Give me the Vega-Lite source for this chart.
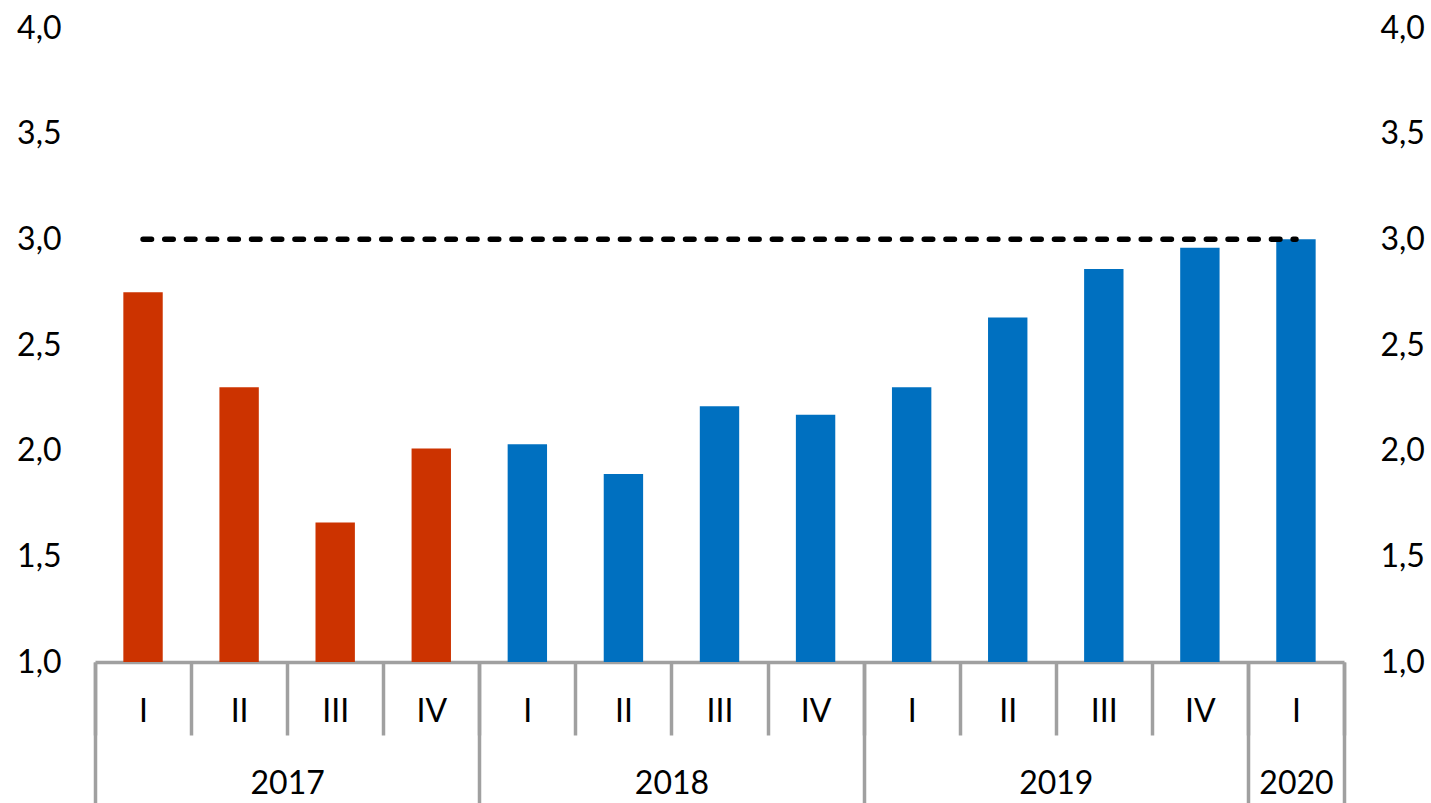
{
  "$schema": "https://vega.github.io/schema/vega-lite/v6.json",
  "autosize": "none",
  "width": 1249,
  "height": 634,
  "padding": {"left": 95, "top": 28, "right": 87, "bottom": 141},
  "background": "white",
  "config": {
    "view": {"stroke": null},
    "font": "Lato",
    "axis": {"grid": false, "labelFont": "Lato", "labelFontSize": 32, "labelColor": "#000000", "title": null}
  },
  "datasets": {
    "bars": [
      {"quarter": "2017 I", "value": 2.75, "phase": "2017"},
      {"quarter": "2017 II", "value": 2.30, "phase": "2017"},
      {"quarter": "2017 III", "value": 1.66, "phase": "2017"},
      {"quarter": "2017 IV", "value": 2.01, "phase": "2017"},
      {"quarter": "2018 I", "value": 2.03, "phase": "later"},
      {"quarter": "2018 II", "value": 1.89, "phase": "later"},
      {"quarter": "2018 III", "value": 2.21, "phase": "later"},
      {"quarter": "2018 IV", "value": 2.17, "phase": "later"},
      {"quarter": "2019 I", "value": 2.30, "phase": "later"},
      {"quarter": "2019 II", "value": 2.63, "phase": "later"},
      {"quarter": "2019 III", "value": 2.86, "phase": "later"},
      {"quarter": "2019 IV", "value": 2.96, "phase": "later"},
      {"quarter": "2020 I", "value": 3.00, "phase": "later"}
    ],
    "target": [
      {"quarter": "2017 I", "value": 3.0},
      {"quarter": "2020 I", "value": 3.0}
    ]
  },
  "layer": [
    {
      "data": {"name": "bars"},
      "mark": {"type": "bar", "width": {"band": 0.41}, "clip": true},
      "encoding": {
        "x": {
          "field": "quarter", "type": "nominal", "sort": null,
          "scale": {
            "domain": ["2017 I","2017 II","2017 III","2017 IV","2018 I","2018 II","2018 III","2018 IV","2019 I","2019 II","2019 III","2019 IV","2020 I"],
            "paddingInner": 0, "paddingOuter": 0
          },
          "axis": {
            "orient": "bottom",
            "domain": true, "domainColor": "#A0A0A0", "domainWidth": 3.5,
            "ticks": true, "tickBand": "extent", "tickSize": 73, "tickColor": "#A0A0A0", "tickWidth": 3.5,
            "labelExpr": "split(datum.value, ' ')[1]",
            "labelAngle": 0, "labelBaseline": "middle", "labelPadding": -24
          }
        },
        "y": {
          "field": "value", "type": "quantitative",
          "scale": {"domain": [1, 4], "nice": false, "zero": false},
          "axis": {
            "orient": "left", "domain": false, "ticks": false, "tickSize": 0,
            "values": [1, 1.5, 2, 2.5, 3, 3.5, 4],
            "labelExpr": "replace(format(datum.value, '.1f'), '.', ',')",
            "labelPadding": 34
          }
        },
        "color": {
          "field": "phase", "type": "nominal",
          "scale": {"domain": ["2017", "later"], "range": ["#CC3300", "#0070C0"]},
          "legend": null
        }
      }
    },
    {
      "data": {"name": "target"},
      "mark": {"type": "line", "color": "#000000", "strokeWidth": 5.5, "strokeDash": [8.5, 13.2], "strokeCap": "round"},
      "encoding": {
        "x": {
          "field": "quarter", "type": "nominal", "sort": null,
          "axis": {
            "orient": "bottom",
            "domain": false,
            "values": ["2017 I", "2018 I", "2019 I", "2020 I"],
            "ticks": true, "tickBand": "center", "tickOffset": -48.04, "tickSize": 141, "tickColor": "#A0A0A0", "tickWidth": 3.5,
            "labelExpr": "split(datum.value, ' ')[0]",
            "labelOffset": {"condition": {"test": "datum.value == '2020 I'", "value": 48.04}, "value": 192.15},
            "labelAngle": 0, "labelBaseline": "middle", "labelPadding": -20
          }
        },
        "y": {
          "field": "value", "type": "quantitative",
          "scale": {"domain": [1, 4], "nice": false, "zero": false},
          "axis": {
            "orient": "right", "domain": false, "ticks": false, "tickSize": 0,
            "values": [1, 1.5, 2, 2.5, 3, 3.5, 4],
            "labelExpr": "replace(format(datum.value, '.1f'), '.', ',')",
            "labelPadding": 36
          }
        }
      }
    },
    {
      "data": {"name": "target"},
      "mark": {"type": "point", "opacity": 0},
      "encoding": {
        "x": {
          "field": "quarter", "type": "nominal", "sort": null,
          "axis": {
            "orient": "bottom",
            "domain": false,
            "values": ["2020 I"],
            "ticks": true, "tickBand": "center", "tickOffset": 48.04, "tickSize": 141, "tickColor": "#A0A0A0", "tickWidth": 3.5,
            "labels": false
          }
        },
        "y": {
          "field": "value", "type": "quantitative",
          "scale": {"domain": [1, 4], "nice": false, "zero": false},
          "axis": null
        }
      }
    }
  ],
  "resolve": {"axis": {"x": "independent", "y": "independent"}}
}
